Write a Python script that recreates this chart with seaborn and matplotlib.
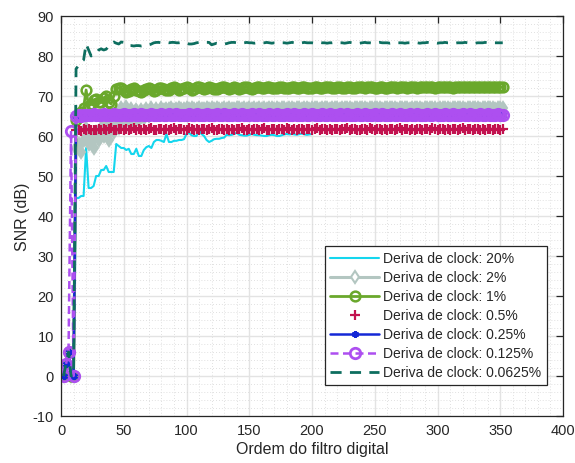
import numpy as np
import matplotlib
matplotlib.use("Agg")
import matplotlib.pyplot as plt
from matplotlib.ticker import MultipleLocator
import seaborn as sns

# ---------------- data (SNR in dB vs filter order) ----------------
X_START = 2          # first filter order
X_STEP = 2           # order step
RED_X_START = 12

cyan_20 = [0, 3, 6, 0, 0, 44.5, 44.5, 45, 45, 57,
           47, 47, 47.5, 50, 50, 51.5, 51.5, 52.5, 51, 51,
           51, 58, 57.5, 57, 57, 56.5, 56.8, 55.5, 55.5, 56.8,
           55, 55, 56.5, 57.2, 57.5, 57, 58.5, 59, 59, 58.8,
           58.5, 60.5, 58.5, 58.5, 58.8, 58.8, 59, 59, 59.2, 60.5,
           60.8, 60.2, 60, 60, 61.5, 60.5, 60, 59, 58.5, 58.8,
           59.2, 59.3, 59.3, 59.5, 59.6, 60.3, 60.2, 60.3, 60.5, 60.8,
           60.3, 60.2, 60.1, 60.1, 60.3, 60.5, 60.3, 60.2, 60.2, 60.1,
           60, 60, 60.2, 60.3, 60.2, 60, 60, 60.2, 60.4, 60.5,
           60.4, 60.5, 60.4, 60.3, 60.5, 60.6, 60.4, 60.3, 60.4, 60.5]

grey_2 = [0, 3, 6, 0, 0, 57, 58, 56, 59, 62,
          58, 60, 57, 61, 59, 62, 60, 63, 59, 62,
          61, 64, 62, 67, 63, 67.2, 64, 66.8, 63.5, 66.5,
          64, 66.6, 64.5, 66.8, 65, 66.9, 65.5, 66.7, 66, 66.9,
          66.6, 66.8, 66.7, 66.9, 66.6, 66.8, 66.9, 66.7, 66.8, 66.9,
          66.7, 66.9, 66.8, 66.7, 66.9, 66.8, 66.7, 66.9, 66.8, 67,
          66.8, 66.9, 66.7, 66.8, 67, 66.8, 66.9, 66.7, 66.8, 66.9,
          66.9, 66.8, 67, 66.8, 66.9, 66.7, 66.9, 66.8, 67, 66.8,
          66.9, 66.8, 66.9, 67, 66.8, 66.9, 66.8, 67, 66.9, 66.8,
          66.9, 67, 66.8, 66.9, 66.9, 66.8, 67, 66.9, 66.8, 66.9,
          67, 66.9, 66.8, 66.9, 67, 66.9, 66.8, 66.9, 67, 66.9,
          66.8, 66.9, 67, 66.9, 66.9, 66.8, 67, 66.9, 66.9, 67,
          66.9, 66.8, 66.9, 67, 66.9, 66.9, 67, 66.8, 66.9, 67,
          66.9, 66.9, 67, 66.8, 66.9, 67, 66.9, 66.9, 66.8, 67,
          66.9, 67, 66.9, 66.8, 66.9, 67, 66.9, 66.9, 67, 66.8,
          66.9, 67, 66.9, 66.9, 66.8, 67, 66.9, 66.9, 67, 66.9,
          66.8, 66.9, 67, 66.9, 66.9, 67, 66.8, 66.9, 67, 66.9,
          66.9, 67, 66.8, 66.9, 67, 66.9]

green_1 = [0, 3, 6, 0, 0, 64, 65, 66, 67, 71.5,
           67.5, 68, 69, 69.3, 68.5, 68.5, 69.5, 70, 68.5, 68,
           70, 71.8, 72, 72, 71.5, 71, 71.3, 71.8, 72, 71.6,
           71.2, 71, 71.4, 71.8, 72, 71.7, 71.3, 71.5, 71.9, 72.1,
           71.8, 71.5, 71.6, 72, 72.2, 71.9, 71.6, 71.7, 72.1, 72.2,
           71.9, 71.6, 71.8, 72.2, 72.3, 72, 71.7, 71.9, 72.2, 72.1,
           71.8, 71.7, 72, 72.3, 72.2, 71.9, 71.8, 72.1, 72.3, 72.1,
           71.8, 71.9, 72.2, 72.3, 72, 71.8, 72, 72.3, 72.2, 71.9,
           71.9, 72.2, 72.3, 72.1, 71.9, 72, 72.3, 72.2, 72, 71.9,
           72.1, 72.3, 72.2, 72, 72, 72.2, 72.3, 72.1, 72, 72.1,
           72.3, 72.2, 72.1, 72, 72.2, 72.3, 72.2, 72, 72.1, 72.3,
           72.2, 72.1, 72.1, 72.3, 72.3, 72.1, 72, 72.2, 72.3, 72.2,
           72.1, 72.2, 72.3, 72.2, 72.1, 72.1, 72.3, 72.3, 72.1, 72.1,
           72.2, 72.3, 72.2, 72.1, 72.2, 72.3, 72.2, 72.1, 72.2, 72.3,
           72.2, 72.1, 72.2, 72.3, 72.2, 72.2, 72.3, 72.2, 72.1, 72.2,
           72.3, 72.2, 72.2, 72.3, 72.2, 72.1, 72.2, 72.3, 72.3, 72.2,
           72.2, 72.3, 72.2, 72.2, 72.3, 72.2, 72.2, 72.3, 72.2, 72.2,
           72.3, 72.2, 72.2, 72.3, 72.2, 72.2]

red_05 = [61.4, 61.6, 61.3, 61.7, 61.5, 61.8, 61.4, 61.6, 61.5, 61.7,
          61.6, 61.8, 61.5, 61.7, 61.9, 61.6, 61.5, 61.8, 61.7, 61.6,
          61.8, 61.5, 61.7, 61.9, 61.6, 61.7, 61.5, 61.8, 61.6, 61.7,
          61.9, 61.6, 61.5, 61.8, 61.7, 61.6, 61.8, 61.5, 61.7, 61.9,
          61.6, 61.7, 61.8, 61.5, 61.6, 61.9, 61.7, 61.6, 61.8, 61.5,
          61.7, 61.8, 61.6, 61.7, 61.9, 61.5, 61.6, 61.8, 61.7, 61.6,
          61.8, 61.6, 61.7, 61.5, 61.8, 61.7, 61.9, 61.6, 61.6, 61.8,
          61.5, 61.7, 61.8, 61.6, 61.7, 61.9, 61.6, 61.5, 61.8, 61.7,
          61.6, 61.8, 61.7, 61.6, 61.9, 61.7, 61.5, 61.8, 61.6, 61.7,
          61.8, 61.6, 61.7, 61.8, 61.5, 61.7, 61.9, 61.6, 61.7, 61.8,
          61.6, 61.7, 61.5, 61.8, 61.7, 61.6, 61.8, 61.7, 61.9, 61.6,
          61.7, 61.8, 61.6, 61.5, 61.8, 61.7, 61.6, 61.9, 61.7, 61.6,
          61.8, 61.7, 61.6, 61.8, 61.5, 61.7, 61.8, 61.6, 61.7, 61.9,
          61.6, 61.7, 61.8, 61.6, 61.7, 61.5, 61.8, 61.7, 61.6, 61.8,
          61.7, 61.6, 61.9, 61.7, 61.6, 61.8, 61.7, 61.5, 61.8, 61.6,
          61.7, 61.8, 61.6, 61.7, 61.9, 61.6, 61.7, 61.8, 61.6, 61.7,
          61.8, 61.6, 61.7, 61.5, 61.8, 61.7, 61.6, 61.8, 61.7, 61.6,
          61.7]

blue_025 = [0, 3, 6, 0, 0, 65, 65.1, 65.2, 65.1, 65.3,
            65.2, 65.1, 65.3, 65.2, 65.2, 65.1, 65.3, 65.2, 65.1, 65.2,
            65.3, 65.2, 65.1, 65.2, 65.3, 65.2, 65.2, 65.1, 65.3, 65.2,
            65.2, 65.3, 65.1, 65.2, 65.2, 65.3, 65.2, 65.1, 65.2, 65.3,
            65.2, 65.2, 65.3, 65.1, 65.2, 65.3, 65.2, 65.2, 65.1, 65.2,
            65.3, 65.2, 65.2, 65.3, 65.1, 65.2, 65.2, 65.3, 65.2, 65.2,
            65.1, 65.3, 65.2, 65.2, 65.3, 65.2, 65.1, 65.2, 65.3, 65.2,
            65.2, 65.3, 65.2, 65.1, 65.2, 65.3, 65.2, 65.2, 65.3, 65.2,
            65.1, 65.2, 65.3, 65.2, 65.2, 65.3, 65.2, 65.1, 65.2, 65.3,
            65.2, 65.2, 65.3, 65.2, 65.1, 65.2, 65.3, 65.2, 65.2, 65.3,
            65.2, 65.1, 65.2, 65.3, 65.2, 65.2, 65.3, 65.2, 65.1, 65.2,
            65.3, 65.2, 65.2, 65.3, 65.2, 65.1, 65.2, 65.3, 65.2, 65.2,
            65.3, 65.2, 65.1, 65.2, 65.3, 65.2, 65.2, 65.3, 65.2, 65.1,
            65.2, 65.3, 65.2, 65.2, 65.3, 65.2, 65.1, 65.2, 65.3, 65.2,
            65.2, 65.3, 65.2, 65.1, 65.2, 65.3, 65.2, 65.2, 65.3, 65.2,
            65.1, 65.2, 65.3, 65.2, 65.2, 65.3, 65.2, 65.1, 65.2, 65.3,
            65.2, 65.2, 65.3, 65.2, 65.1, 65.2, 65.3, 65.2, 65.2, 65.3,
            65.2, 65.1, 65.2, 65.3, 65.2, 65.2]

purple_0125 = [0, 3, 6, 61.3, 0, 65, 65.2, 65.1, 65.3, 65.2,
               65.3, 65.2, 65.4, 65.3, 65.2, 65.3, 65.4, 65.3, 65.2, 65.3,
               65.4, 65.3, 65.2, 65.3, 65.4, 65.3, 65.3, 65.2, 65.4, 65.3,
               65.3, 65.4, 65.2, 65.3, 65.3, 65.4, 65.3, 65.2, 65.3, 65.4,
               65.3, 65.3, 65.4, 65.2, 65.3, 65.4, 65.3, 65.3, 65.2, 65.3,
               65.4, 65.3, 65.3, 65.4, 65.2, 65.3, 65.3, 65.4, 65.3, 65.3,
               65.2, 65.4, 65.3, 65.3, 65.4, 65.3, 65.2, 65.3, 65.4, 65.3,
               65.3, 65.4, 65.3, 65.2, 65.3, 65.4, 65.3, 65.3, 65.4, 65.3,
               65.2, 65.3, 65.4, 65.3, 65.3, 65.4, 65.3, 65.2, 65.3, 65.4,
               65.3, 65.3, 65.4, 65.3, 65.2, 65.3, 65.4, 65.3, 65.3, 65.4,
               65.3, 65.2, 65.3, 65.4, 65.3, 65.3, 65.4, 65.3, 65.2, 65.3,
               65.4, 65.3, 65.3, 65.4, 65.3, 65.2, 65.3, 65.4, 65.3, 65.3,
               65.4, 65.3, 65.2, 65.3, 65.4, 65.3, 65.3, 65.4, 65.3, 65.2,
               65.3, 65.4, 65.3, 65.3, 65.4, 65.3, 65.2, 65.3, 65.4, 65.3,
               65.3, 65.4, 65.3, 65.2, 65.3, 65.4, 65.3, 65.3, 65.4, 65.3,
               65.2, 65.3, 65.4, 65.3, 65.3, 65.4, 65.3, 65.2, 65.3, 65.4,
               65.3, 65.3, 65.4, 65.3, 65.2, 65.3, 65.4, 65.3, 65.3, 65.4,
               65.3, 65.2, 65.3, 65.4, 65.3, 65.3]

teal_00625 = [0, 3, 6, 0, 0, 76.8, 77.6, 78.5, 79, 83,
              81.5, 80, 80.5, 80.6, 81.5, 81.8, 81.5, 81.7, 82.5, 83.2,
              83.5, 83.2, 83, 83.5, 83.4, 82.8, 82.6, 82.6, 82.5, 82.6,
              82.6, 82.5, 82.6, 82.6, 82.7, 83, 83.3, 83.4, 83.4, 83.3,
              83.4, 83.4, 83.3, 83.4, 83.4, 83.3, 83.3, 83.4, 83.4, 83.2,
              83, 83, 83.1, 83.3, 83.4, 83.4, 83.3, 83.4, 83.4, 82.8,
              83, 83.2, 83.1, 83, 83, 83.1, 83.3, 83.4, 83.4, 83.3,
              83.3, 83.2, 83.3, 83.4, 83.3, 83.3, 83.2, 83.3, 83.4, 83.3,
              83.3, 83.4, 83.3, 83.2, 83.3, 83.3, 83.4, 83.3, 83.3, 83.2,
              83.3, 83.4, 83.3, 83.3, 83.2, 83.3, 83.4, 83.3, 83.3, 83.3,
              83.2, 83.3, 83.4, 83.3, 83.3, 83.2, 83.3, 83.3, 83.4, 83.3,
              83.3, 83.3, 83.2, 83.3, 83.4, 83.3, 83.3, 83.3, 83.2, 83.3,
              83.4, 83.3, 83.3, 83.2, 83.3, 83.3, 83.4, 83.3, 83.3, 83.3,
              83.2, 83.3, 83.4, 83.3, 83.3, 83.3, 83.2, 83.3, 83.3, 83.4,
              83.3, 83.3, 83.2, 83.3, 83.3, 83.4, 83.3, 83.3, 83.3, 83.2,
              83.3, 83.3, 83.4, 83.3, 83.3, 83.3, 83.2, 83.3, 83.3, 83.3,
              83.4, 83.3, 83.3, 83.3, 83.2, 83.3, 83.3, 83.3, 83.4, 83.3,
              83.3, 83.3, 83.3, 83.3, 83.3, 83.3]

labels = ["Deriva de clock: 20%", "Deriva de clock: 2%", "Deriva de clock: 1%",
          "Deriva de clock: 0.5%", "Deriva de clock: 0.25%",
          "Deriva de clock: 0.125%", "Deriva de clock: 0.0625%"]

x_ticks = [0, 50, 100, 150, 200, 250, 300, 350, 400]
y_ticks = [-10, 0, 10, 20, 30, 40, 50, 60, 70, 80, 90]


def orders(vals, start=X_START):
    return start + X_STEP * np.arange(len(vals))


sns.set_style("white")
plt.rcParams["font.family"] = ["Liberation Sans", "DejaVu Sans"]
plt.rcParams["axes.unicode_minus"] = False

fig = plt.figure(figsize=(5.75, 4.64), dpi=100)
ax = fig.add_axes([61 / 575, 47 / 464, 502 / 575, 400 / 464])

common = dict(ax=ax, estimator=None, sort=False)
GREY = "#b3c6c1"

sns.lineplot(x=orders(cyan_20), y=cyan_20, color="#14d6ee", lw=1.5,
             label=labels[0], **common)
sns.lineplot(x=orders(grey_2), y=grey_2, color=GREY, lw=2.2,
             marker="d", markersize=6.5, markerfacecolor=GREY,
             markeredgecolor=GREY, markeredgewidth=1.5,
             label=labels[1], **common)
sns.lineplot(x=orders(green_1), y=green_1, color="#6aa82c", lw=2.0,
             marker="o", markersize=7, markerfacecolor="none",
             markeredgecolor="#6aa82c", markeredgewidth=1.8,
             label=labels[2], **common)
sns.lineplot(x=orders(red_05, RED_X_START), y=red_05, color="#c2124f",
             linestyle="none", marker="+", markersize=7.5,
             markeredgewidth=1.6, markeredgecolor="#c2124f",
             label=labels[3], **common)
sns.lineplot(x=orders(blue_025), y=blue_025, color="#1428d6", lw=1.8,
             marker=(6, 2, 0), markersize=5, markeredgewidth=1.5,
             markeredgecolor="#1428d6",
             label=labels[4], **common)
sns.lineplot(x=orders(purple_0125), y=purple_0125, color="#ad4ff0", lw=1.8,
             linestyle=(0, (3.2, 1.8)), marker="o", markersize=7.5,
             markerfacecolor="none", markeredgecolor="#ad4ff0",
             markeredgewidth=2.0, label=labels[5], **common)
sns.lineplot(x=orders(teal_00625), y=teal_00625, color="#0d6e5f", lw=2.0,
             linestyle=(0, (4, 3)), label=labels[6], **common)

ax.set_xlim(0, 400)
ax.set_ylim(-10, 90)
ax.set_xticks(x_ticks)
ax.set_yticks(y_ticks)
ax.xaxis.set_minor_locator(MultipleLocator(10))
ax.yaxis.set_minor_locator(MultipleLocator(2))
ax.grid(True, which="major", color="#e3e3e3", lw=1.0, ls="-")
ax.grid(True, which="minor", color="#d6d6d6", lw=0.6, ls=(0, (1, 2.5)))
ax.set_axisbelow(True)
ax.tick_params(which="major", direction="in", length=5, width=0.9,
               top=True, right=True, labelsize=10.5, colors="#262626",
               pad=5)
ax.tick_params(which="minor", length=0, top=True, right=True)
for s in ax.spines.values():
    s.set_color("#262626")
    s.set_linewidth(0.9)

ax.set_xlabel("Ordem do filtro digital", fontsize=11.5, color="#262626",
              labelpad=3)
ax.set_ylabel("SNR (dB)", fontsize=11.5, color="#262626", labelpad=2)

leg = ax.legend(loc="lower right", bbox_to_anchor=(0.968, 0.0775),
                fontsize=10, frameon=True, fancybox=False, framealpha=1,
                edgecolor="#262626", handlelength=3.5, handletextpad=0.3,
                labelspacing=0.36, borderpad=0.4, borderaxespad=0,
                numpoints=1)
leg.get_frame().set_linewidth(0.9)
# legend diamond is drawn hollow, as in the reference
leg.legend_handles[1].set_markerfacecolor("white")

fig.savefig("out.png", dpi=100)
